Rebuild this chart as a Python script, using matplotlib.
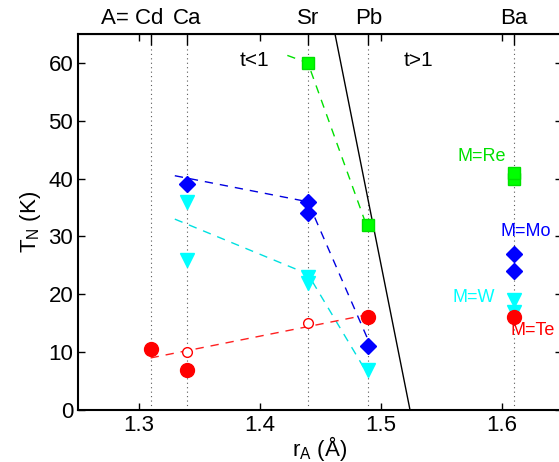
import numpy as np
import matplotlib.pyplot as plt

plt.rcParams['font.family'] = ['Liberation Sans', 'DejaVu Sans']
plt.rcParams['mathtext.fontset'] = 'custom'
plt.rcParams['mathtext.rm'] = 'Liberation Sans'

# element positions (r_A in Angstrom)
elements = ['A= Cd', 'Ca', 'Sr', 'Pb', 'Ba']
r_elem = [1.31, 1.34, 1.44, 1.49, 1.61]

# M=Re (green squares)
re_x = [1.44, 1.49, 1.61, 1.61]
re_y = [60, 32, 40, 41]
re_fit_x = [1.423, 1.44, 1.49]
re_fit_y = [61.3, 60, 31]

# M=Mo (blue diamonds)
mo_x = [1.34, 1.44, 1.44, 1.49, 1.61, 1.61]
mo_y = [39, 36, 34, 11, 27, 24]
mo_fit_x = [1.33, 1.44, 1.49]
mo_fit_y = [40.5, 36, 12]

# M=W (cyan triangles)
w_x = [1.34, 1.34, 1.44, 1.44, 1.49, 1.61, 1.61]
w_y = [36, 26, 23, 22, 7, 19, 17]
w_fit_x = [1.33, 1.44, 1.49]
w_fit_y = [33, 23.5, 6]

# M=Te (red circles), filled and open
te_x = [1.31, 1.34, 1.49, 1.61]
te_y = [10.5, 7, 16, 16]
te_open_x = [1.34, 1.44]
te_open_y = [10, 15]
te_fit_x = [1.31, 1.49]
te_fit_y = [9, 16.5]

# t=1 boundary
t1_x = [1.4624, 1.5244]
t1_y = [65, 0]

fig = plt.figure(figsize=(5.59, 4.62), dpi=100)
ax = fig.add_axes([78/559, 52/462, 484/559, 376/462])

for r in r_elem:
    ax.axvline(r, color='0.35', ls=(0, (1, 3)), lw=0.8, zorder=0)

ax.plot(t1_x, t1_y, color='k', lw=1)

ax.plot(re_fit_x, re_fit_y, color='#00e000', lw=1, dashes=(6, 5))
ax.plot(mo_fit_x, mo_fit_y, color='#0000e0', lw=1, dashes=(6, 5))
ax.plot(w_fit_x, w_fit_y, color='#00e0e0', lw=1, dashes=(6, 5))
ax.plot(te_fit_x, te_fit_y, color='#ff2020', lw=1, dashes=(6, 5))

ax.plot(re_x, re_y, 's', color='#00ff00', ms=8, mec='#00e000')
ax.plot(mo_x, mo_y, 'D', color='#0000ff', ms=8)
ax.plot(w_x, w_y, 'v', color='cyan', ms=10)
ax.plot(te_x, te_y, 'o', color='red', ms=10)
ax.plot(te_open_x, te_open_y, 'o', mfc='white', mec='red', ms=7, mew=1)

fs = 16
ax.text(1.396, 60.5, 't<1', fontsize=15, ha='center', va='center')
ax.text(1.531, 60.5, 't>1', fontsize=15, ha='center', va='center')
ax.text(1.584, 43.8, 'M=Re', fontsize=13, color='#00e000', ha='center', va='center')
ax.text(1.620, 30.8, 'M=Mo', fontsize=13, color='#0000ff', ha='center', va='center')
ax.text(1.577, 19.5, 'M=W', fontsize=13, color='cyan', ha='center', va='center')
ax.text(1.626, 13.8, 'M=Te', fontsize=13, color='red', ha='center', va='center')

ax.set_xlim(1.25, 1.65)
ax.set_ylim(0, 65)
ax.set_xticks([1.3, 1.4, 1.5, 1.6])
ax.set_yticks(range(0, 61, 10))
ax.tick_params(direction='in', labelsize=fs, top=True, right=True, length=5, width=1)
for s in ax.spines.values():
    s.set_linewidth(1.5)

ax.set_xlabel(r'r$_\mathrm{A}$ (Å)', fontsize=fs, labelpad=-1)
ax.set_ylabel(r'T$_\mathrm{N}$ (K)', fontsize=fs, labelpad=4)

# top axis: element ticks with labels
top = ax.secondary_xaxis('top')
top.set_xticks(r_elem)
top.set_xticklabels([])
top.tick_params(direction='in', length=8, width=1)
for r, name in zip(r_elem, elements):
    if name.startswith('A='):
        ax.annotate(name, (r, 1), xycoords=('data', 'axes fraction'),
                    xytext=(9, 7.5), textcoords='offset points',
                    ha='right', va='baseline', fontsize=fs)
    else:
        ax.annotate(name, (r, 1), xycoords=('data', 'axes fraction'),
                    xytext=(0, 7.5), textcoords='offset points',
                    ha='center', va='baseline', fontsize=fs)

fig.savefig('out.png', dpi=100)
